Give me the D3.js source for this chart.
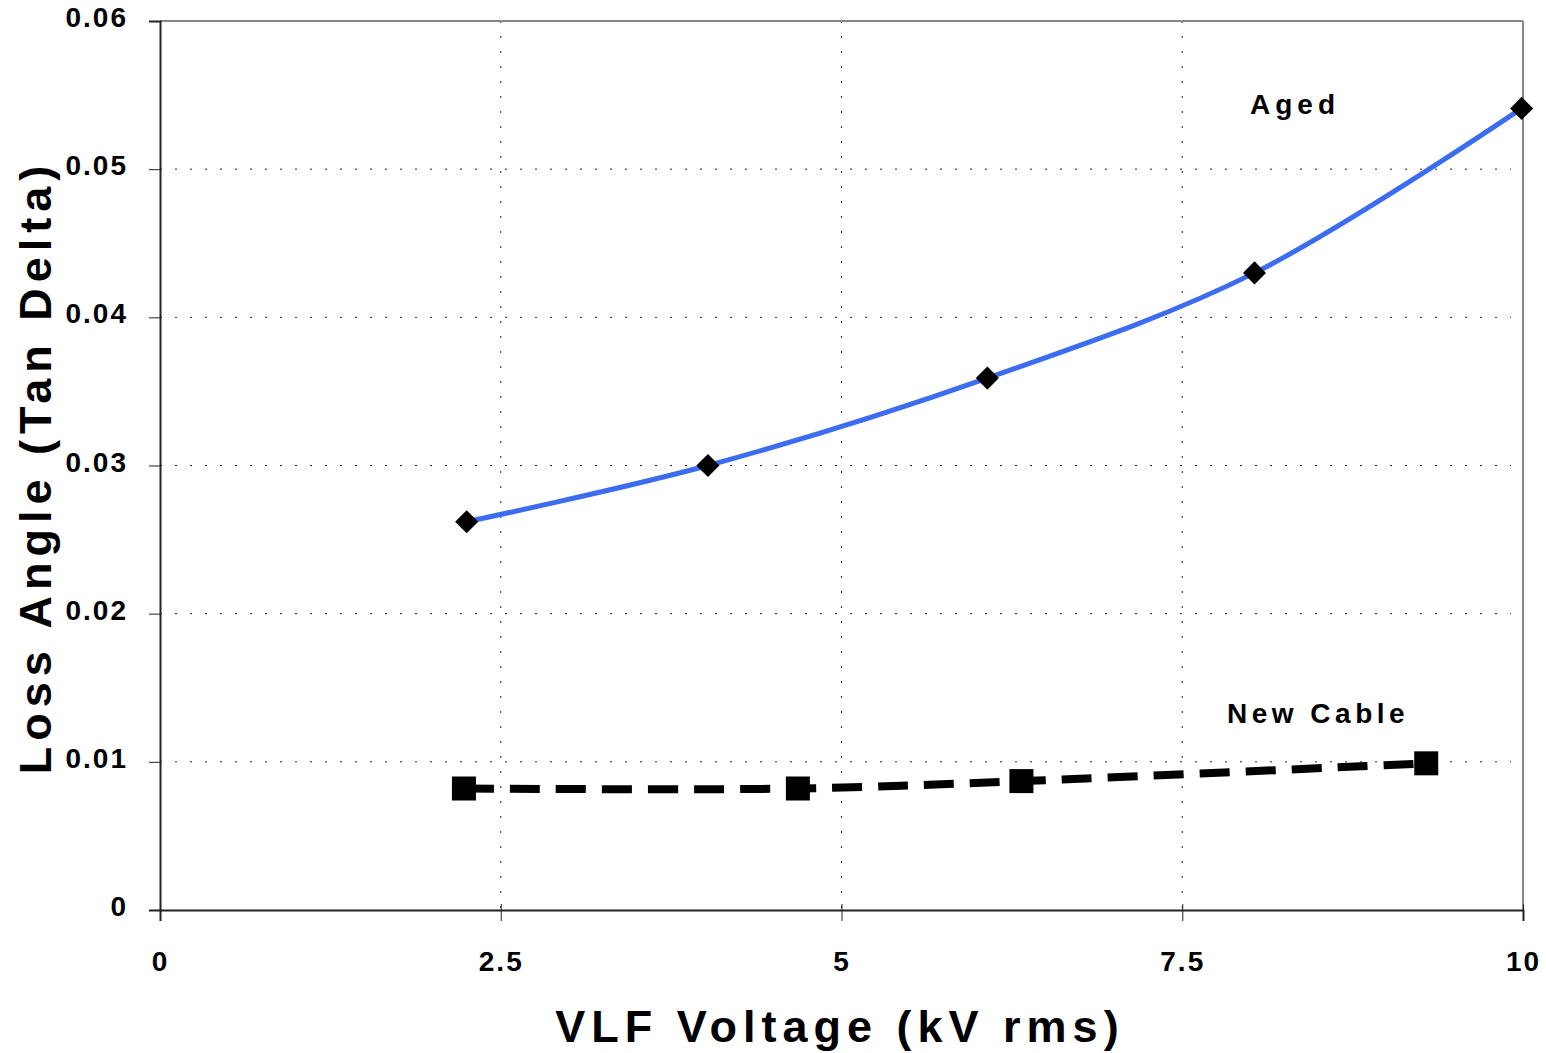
<!DOCTYPE html>
<html>
<head>
<meta charset="utf-8">
<script src="https://cdn.jsdelivr.net/npm/d3@7"></script>
<style>
  body { margin: 0; background: #fff; }
  text { font-family: "Liberation Sans", Arial, sans-serif; font-weight: bold; }
</style>
</head>
<body>
<svg id="chart"></svg>
<script>
// data
const agedVoltage = [2.25, 4.02, 6.07, 8.03, 9.99];
const agedTanDelta = [0.0262, 0.0300, 0.0359, 0.0430, 0.0541];
const newVoltage = [2.23, 4.68, 6.32, 9.29];
const newTanDelta = [0.0082, 0.0082, 0.0087, 0.0099];
const xTicks = [0, 2.5, 5, 7.5, 10];
const yTicks = [0, 0.01, 0.02, 0.03, 0.04, 0.05, 0.06];

// dimensions
const width = 1546;
const height = 1053;
const plotLeft = 160, plotRight = 1523, plotTop = 21, plotBottom = 910;

const svg = d3.select('#chart')
  .attr('width', width)
  .attr('height', height);

// scales
const xScale = d3.scaleLinear().domain([0, 10]).range([plotLeft, plotRight]);
const yScale = d3.scaleLinear().domain([0, 0.06]).range([plotBottom, plotTop]);

// grid
svg.append('g')
  .selectAll('line')
  .data(yTicks.filter(d => d > 0 && d < 0.06))
  .enter()
  .append('line')
  .attr('x1', plotLeft).attr('x2', plotRight - 12)
  .attr('y1', d => yScale(d)).attr('y2', d => yScale(d))
  .attr('stroke', '#222').attr('stroke-width', 1)
  .attr('stroke-dasharray', '2,13');

svg.append('g')
  .selectAll('line')
  .data(xTicks.filter(d => d > 0 && d < 10))
  .enter()
  .append('line')
  .attr('x1', d => xScale(d)).attr('x2', d => xScale(d))
  .attr('y1', plotTop).attr('y2', plotBottom)
  .attr('stroke', '#222').attr('stroke-width', 1)
  .attr('stroke-dasharray', '2,13');

// frame (top / right)
svg.append('line').attr('x1', plotLeft).attr('x2', plotRight).attr('y1', plotTop).attr('y2', plotTop)
  .attr('stroke', '#888').attr('stroke-width', 2);
svg.append('line').attr('x1', plotRight).attr('x2', plotRight).attr('y1', plotTop).attr('y2', plotBottom)
  .attr('stroke', '#888').attr('stroke-width', 2);

// axes
const xAxis = d3.axisBottom(xScale).tickValues(xTicks).tickSize(11).tickPadding(30)
  .tickFormat(d => d3.format('~g')(d));
const yAxis = d3.axisLeft(yScale).tickValues(yTicks).tickSize(11).tickPadding(22)
  .tickFormat(d => d === 0 ? '0' : d3.format('.2f')(d));

const gx = svg.append('g')
  .attr('transform', `translate(0, ${plotBottom})`)
  .call(xAxis);
gx.select('.domain').attr('stroke', '#222').attr('stroke-width', 2);
gx.selectAll('.tick line').attr('y1', -6).attr('y2', 11).attr('stroke', '#222');
gx.selectAll('.tick text').attr('font-size', 28).attr('fill', '#000')
  .attr('letter-spacing', 2).attr('dy', '0.71em');

const gy = svg.append('g')
  .attr('transform', `translate(${plotLeft}, 0)`)
  .call(yAxis);
gy.select('.domain').attr('stroke', '#222').attr('stroke-width', 2);
gy.selectAll('.tick line').attr('stroke', '#222');
gy.selectAll('.tick text').attr('font-size', 28).attr('fill', '#000')
  .attr('letter-spacing', 2).attr('x', -32).attr('dy', '0.2em');

// axis titles
svg.append('text')
  .attr('x', 840).attr('y', 1042)
  .attr('text-anchor', 'middle')
  .attr('font-size', 45).attr('letter-spacing', 6)
  .text('VLF Voltage (kV rms)');

svg.append('text')
  .attr('transform', 'rotate(-90)')
  .attr('x', -467).attr('y', 51)
  .attr('text-anchor', 'middle')
  .attr('font-size', 45).attr('letter-spacing', 6)
  .text('Loss Angle (Tan Delta)');

// lines
const aged = agedVoltage.map((v, i) => [v, agedTanDelta[i]]);
const fresh = newVoltage.map((v, i) => [v, newTanDelta[i]]);

const line = d3.line()
  .x(d => xScale(d[0]))
  .y(d => yScale(d[1]))
  .curve(d3.curveCatmullRom.alpha(0.5));

svg.append('path')
  .datum(fresh)
  .attr('d', line)
  .attr('fill', 'none')
  .attr('stroke', '#000')
  .attr('stroke-width', 8)
  .attr('stroke-dasharray', '30,16');

svg.append('path')
  .datum(aged)
  .attr('d', line)
  .attr('fill', 'none')
  .attr('stroke', '#3c6cf0')
  .attr('stroke-width', 5);

// markers
svg.append('g')
  .selectAll('rect')
  .data(fresh)
  .enter()
  .append('rect')
  .attr('x', d => xScale(d[0]) - 12)
  .attr('y', d => yScale(d[1]) - 12)
  .attr('width', 24).attr('height', 24)
  .attr('fill', '#000');

svg.append('g')
  .selectAll('path')
  .data(aged)
  .enter()
  .append('path')
  .attr('d', d3.symbol(d3.symbolDiamond2, 340))
  .attr('transform', d => `translate(${xScale(d[0])}, ${yScale(d[1])})`)
  .attr('fill', '#000');

// series labels
svg.append('text')
  .attr('x', 1250).attr('y', 114)
  .attr('font-size', 28).attr('letter-spacing', 5)
  .text('Aged');

svg.append('text')
  .attr('x', 1227).attr('y', 723)
  .attr('font-size', 28).attr('letter-spacing', 4.5)
  .text('New Cable');
</script>
</body>
</html>
